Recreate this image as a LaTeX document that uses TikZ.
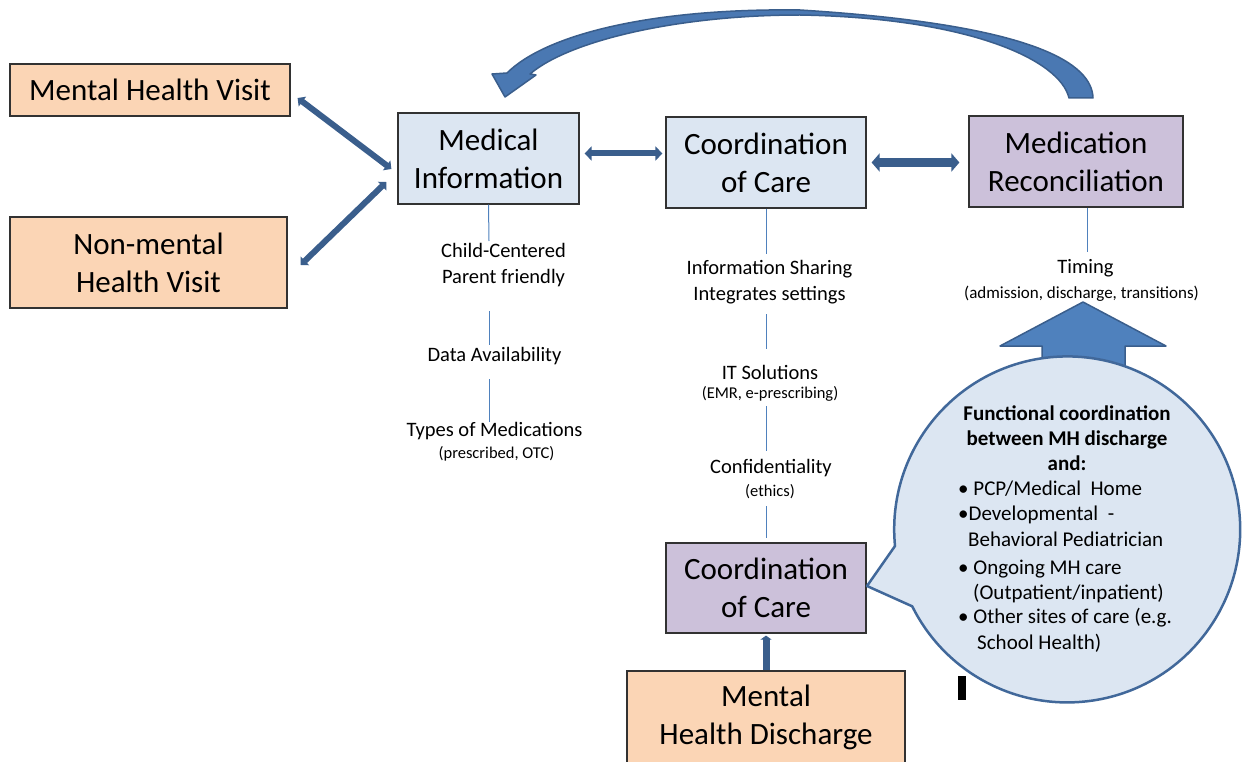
\documentclass[tikz,border=0pt]{standalone}
\usepackage{fontspec}
\setmainfont{Carlito}
\usetikzlibrary{arrows.meta}
\definecolor{peach}{RGB}{251,213,181}
\definecolor{lblue}{RGB}{220,230,242}
\definecolor{lpurple}{RGB}{204,193,218}
\definecolor{boxline}{RGB}{50,50,50}
\definecolor{darrow}{RGB}{58,94,140}
\definecolor{barrow}{RGB}{74,120,178}
\definecolor{sepline}{RGB}{79,129,189}
\definecolor{bubline}{RGB}{65,104,154}
\begin{document}
\begin{tikzpicture}[x=1pt,y=-1pt,
  box/.style={draw=boxline,line width=1.2pt,align=center,inner sep=0pt,font=\fontsize{31}{38}\selectfont},
  peachbox/.style={box,fill=peach},
  bluebox/.style={box,fill=lblue},
  purplebox/.style={box,fill=lpurple},
  lbl/.style={align=center,inner sep=0pt,font=\fontsize{20.5}{26}\selectfont},
  sublbl/.style={align=center,inner sep=0pt,font=\fontsize{16.5}{20}\selectfont},
  bub/.style={anchor=base west,inner sep=0pt,font=\fontsize{21}{26}\selectfont},
  sep/.style={draw=sepline,line width=1pt},
  linkarrow/.style={draw=darrow,line width=6pt,{Triangle[width=12pt,length=6pt]}-{Triangle[width=12pt,length=6pt]}},
  blockarrow/.style={fill=barrow,draw=darrow,line width=1.5pt,line join=round}
]
\useasboundingbox (0,0) rectangle (1247,762);

% boxes
\node[peachbox,minimum width=280pt,minimum height=52pt] (mhv) at (150,90) {Mental Health Visit};
\node[peachbox,minimum width=277pt,minimum height=91pt] (nmhv) at (148.5,262.5) {Non-mental\\Health Visit};
\node[bluebox,minimum width=181pt,minimum height=91pt] (mi) at (488.5,158.5) {Medical\\Information};
\node[bluebox,minimum width=200pt,minimum height=91pt] (coc) at (766,162.5) {Coordination\\of Care};
\node[purplebox,minimum width=214pt,minimum height=91pt] (mr) at (1076,161.5) {Medication\\Reconciliation};
\node[purplebox,minimum width=200pt,minimum height=90pt] (coc2) at (766,588) {Coordination\\of Care};
\node[peachbox,minimum width=278pt,minimum height=92pt] (mhd) at (766,717) {Mental\\Health Discharge};

% labels
\node[lbl] (mi1) at (503.5,265) {Child-Centered\\Parent friendly};
\node[lbl] (mi2) at (494.5,356) {Data Availability};
\node[lbl] (mi3) at (494.5,431) {Types of Medications};
\node[sublbl] (mi3s) at (496.5,454) {(prescribed, OTC)};
\node[lbl] (c1) at (769.5,282) {Information Sharing\\Integrates settings};
\node[lbl] (c2) at (770,372) {IT Solutions};
\node[sublbl] (c2s) at (770,394) {(EMR, e-prescribing)};
\node[lbl] (c3) at (771,468) {Confidentiality};
\node[sublbl] (c3s) at (770,492) {(ethics)};
\node[lbl] (r1) at (1085.5,268) {Timing};
\node[sublbl,font=\fontsize{17}{20}\selectfont] (r1s) at (1081.5,294) {(admission, discharge, transitions)};

% separator lines
\coordinate (m1) at (489,241);
\coordinate (m2) at (489,311);
\coordinate (m3) at (489,345);
\coordinate (m4) at (489,379);
\coordinate (m5) at (489,422);
\draw[sep] (mi.south) -- (m1);
\draw[sep] (m2) -- (m3);
\draw[sep] (m4) -- (m5);
\coordinate (k1) at (766,254);
\coordinate (k2) at (766,314);
\coordinate (k3) at (766,349);
\coordinate (k4) at (766,406);
\coordinate (k5) at (766,451);
\coordinate (k6) at (766,506);
\coordinate (k7) at (766,538);
\draw[sep] (coc.south) -- (k1);
\draw[sep] (k2) -- (k3);
\draw[sep] (k4) -- (k5);
\draw[sep] (k6) -- (k7);
\coordinate (q1) at (1087,252);
\draw[sep] ([xshift=11pt]mr.south) -- (q1);

% connectors
\draw[linkarrow] ([shift={(7pt,-8pt)}]mhv.east) -- ([shift={(-6pt,-10.5pt)}]mi.west);
\draw[linkarrow] ([shift={(-11pt,-23.5pt)}]mi.west) -- ([shift={(13pt,-2.5pt)}]nmhv.east);
\draw[draw=darrow,line width=6pt,{Triangle[width=14pt,length=7pt]}-{Triangle[width=14pt,length=7pt]},shorten <=5pt,shorten >=3pt] ([yshift=5pt]mi.east) -- ([yshift=5pt]mi.east -| coc.west);
\draw[draw=darrow,line width=8.5pt,{Triangle[width=18pt,length=8pt]}-{Triangle[width=18pt,length=8pt]},shorten <=5pt,shorten >=9pt] (coc.east) -- (coc.east -| mr.west);
\draw[draw=darrow,line width=7pt,{Triangle[width=11pt,length=4pt]}-,shorten <=2pt] (coc2.south) -- (mhd.north);

% curved arrow from Medication Reconciliation back to Medical Information
\filldraw[blockarrow] (1093,98) .. controls (1092,65) and (1040,25) .. (800,10)
  .. controls (650,8) and (545,35) .. (507,73) -- (492,74) -- (505,97) -- (536,75) -- (530,74)
  .. controls (570,40) and (680,15) .. (800,15)
  .. controls (970,18) and (1060,60) .. (1069,98) -- cycle;

% up arrow into Timing
\filldraw[blockarrow,fill=sepline] (1083,302) -- (1166,346) -- (1125,346) -- (1125,380) -- (1042,380) -- (1042,346) -- (1000,346) -- cycle;

% speech bubble
\filldraw[fill=lblue,draw=bubline,line width=2.5pt,line join=round] (895,546) arc[start angle=174.5,end angle=513.6,radius=173] -- (867,586) -- cycle;

\node[align=center,inner sep=0pt,font=\fontsize{21}{25}\selectfont\bfseries] (bh) at (1067,438) {Functional coordination\\between MH discharge\\and:};
\node[bub] (b1) at (958,495) {• PCP/Medical~ Home};
\node[bub] (b2) at (958,520) {•Developmental~ -};
\node[bub] (b2b) at (968,546) {Behavioral Pediatrician};
\node[bub] (b3) at (958,574) {• Ongoing MH care};
\node[bub] (b3b) at (973,599) {(Outpatient/inpatient)};
\node[bub] (b4) at (958,623) {• Other sites of care (e.g.};
\node[bub] (b4b) at (977,649) {School Health)};

% stray mark
\fill[black] (958,676) rectangle (966,700);
\end{tikzpicture}
\end{document}
